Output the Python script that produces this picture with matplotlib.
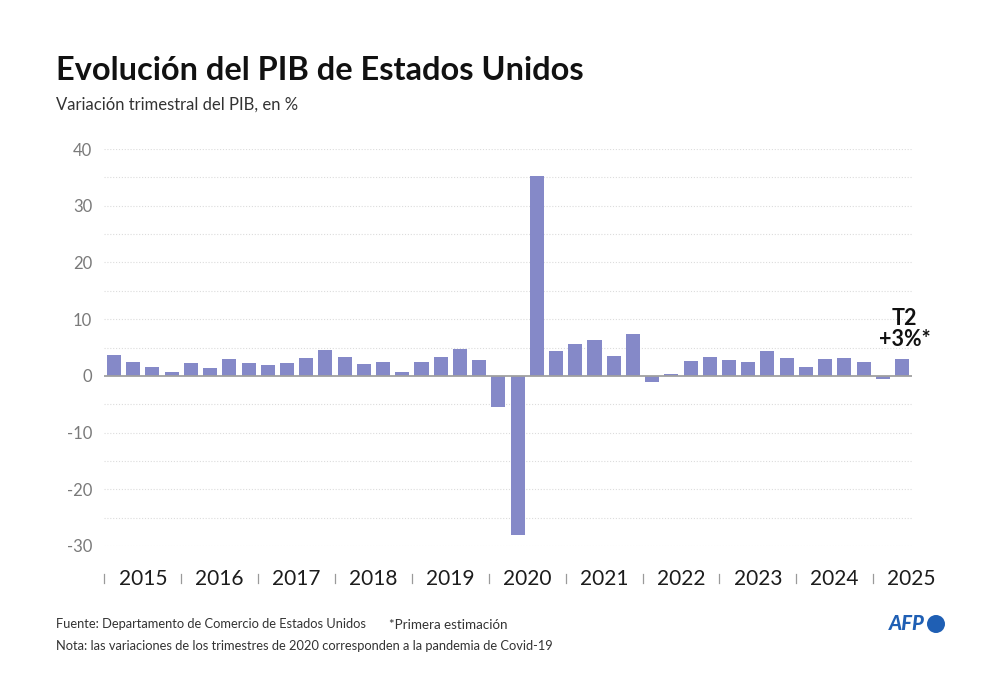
import matplotlib
matplotlib.use("Agg")
import matplotlib.pyplot as plt
from matplotlib.patches import Ellipse
import numpy as np

plt.rcParams["font.family"] = ["Lato", "DejaVu Sans"]

YEARS = ["2015", "2016", "2017", "2018", "2019", "2020", "2021", "2022", "2023", "2024", "2025"]
QUARTERS_PER_YEAR = [4, 4, 4, 4, 4, 4, 4, 4, 4, 4, 2]
GDP = [
    3.6, 2.5, 1.6, 0.7,
    2.3, 1.3, 2.9, 2.2,
    2.0, 2.3, 3.2, 4.6,
    3.3, 2.1, 2.5, 0.6,
    2.5, 3.4, 4.8, 2.8,
    -5.5, -28.1, 35.2, 4.4,
    5.6, 6.4, 3.5, 7.4,
    -1.0, 0.3, 2.7, 3.4,
    2.8, 2.4, 4.4, 3.2,
    1.6, 3.0, 3.1, 2.4,
    -0.5, 3.0,
]
Y_TICKS = [-30, -20, -10, 0, 10, 20, 30, 40]
Y_GRID = [-30, -25, -20, -15, -10, -5, 5, 10, 15, 20, 25, 30, 35, 40]

W, H = 1000, 685
BAR_COLOR = "#8589c8"
TEXT_COLOR = "#1c1c1c"
GREY = "#7a7a7a"


def px_x(x):
    return x / W


def px_y(y):
    return 1 - y / H


fig = plt.figure(figsize=(W / 100, H / 100), dpi=100, facecolor="white")

# axes box is pinned to pixels: 104-912 wide, y=40 at 149 and y=-30 at 546
ax = fig.add_axes([px_x(104), px_y(546), px_x(912) - px_x(104), px_y(149) - px_y(546)])
ax.set_facecolor("none")
ax.set_xlim(-0.52, 41.52)
ax.set_ylim(-30, 40)
for s in ax.spines.values():
    s.set_visible(False)

for v in Y_GRID:
    ax.axhline(v, color="#dcdcdc", lw=0.8, ls=(0, (1, 1.6)), zorder=1)

x = np.arange(len(GDP))
ax.bar(x, GDP, width=0.73, color=BAR_COLOR, linewidth=0, zorder=2)
ax.axhline(0, color="#a0a0a0", lw=1.3, zorder=3)

ax.set_xticks([])
ax.set_yticks(Y_TICKS)
ax.set_yticklabels([str(t) for t in Y_TICKS], fontsize=12, color=GREY)
ax.tick_params(axis="y", length=0, pad=8.5)

# year labels and separators under the axis
start = 0
for year, n in zip(YEARS, QUARTERS_PER_YEAR):
    left = start - 0.5
    ax.plot([left, left], [-35.0, -36.6], color="#9a9a9a", lw=0.9, clip_on=False)
    ax.text(start + 1.5, -35.9, year, ha="center", va="center", fontsize=15, color=TEXT_COLOR)
    start += n

ax.text(41 + 0.13, 4.6, "T2\n+3%*", ha="center", va="bottom", multialignment="center", fontsize=15.5,
        fontweight="bold", color="#111111", linespacing=1.0)

fig.text(px_x(56), px_y(71), "Evolución del PIB de Estados Unidos", fontsize=23.4, fontweight="bold",
         color="#111111", ha="left", va="center")
fig.text(px_x(56), px_y(105), "Variación trimestral del PIB, en %", fontsize=12, color="#333333",
         ha="left", va="center")
fig.text(px_x(56), px_y(624), "Fuente: Departamento de Comercio de Estados Unidos", fontsize=9.3,
         color="#333333", ha="left", va="center")
fig.text(px_x(389), px_y(625), "*Primera estimación", fontsize=9.6, color="#333333", ha="left", va="center")
fig.text(px_x(56), px_y(646), "Nota: las variaciones de los trimestres de 2020 corresponden a la pandemia de Covid-19",
         fontsize=9.3, color="#333333", ha="left", va="center")

# AFP logo
fig.text(px_x(889), px_y(624), "AFP", fontsize=14.5, fontweight="black", style="italic", color="#1f5fb4",
         ha="left", va="center")
fig.add_artist(Ellipse((px_x(936), px_y(624)), 18 / W, 18 / H, transform=fig.transFigure,
                       facecolor="#1f5fb4", edgecolor="none"))

fig.savefig("out.png", dpi=100, facecolor="white")
